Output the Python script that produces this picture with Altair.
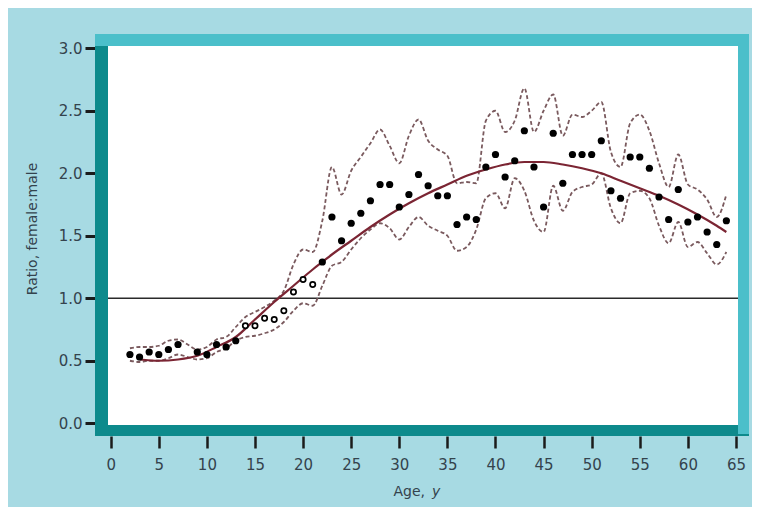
import altair as alt
import pandas as pd

# ---------------- data ----------------
point_age = [2, 3, 4, 5, 6, 7,
             9, 10, 11, 12, 13,
             14, 15, 16, 17, 18, 19, 20, 21,
             22, 23, 24, 25, 26, 27, 28, 29, 30, 31,
             32, 33, 34, 35, 36, 37, 38, 39, 40, 41,
             42, 43, 44, 45, 46, 47, 48, 49, 50, 51,
             52, 53, 54, 55, 56, 57, 58, 59, 60, 61,
             62, 63, 64]
point_ratio = [0.55, 0.53, 0.57, 0.55, 0.59, 0.63,
               0.57, 0.55, 0.63, 0.61, 0.66,
               0.78, 0.78, 0.84, 0.83, 0.90, 1.05, 1.15, 1.11,
               1.29, 1.65, 1.46, 1.60, 1.68, 1.78, 1.91, 1.91, 1.73, 1.83,
               1.99, 1.90, 1.82, 1.82, 1.59, 1.65, 1.63, 2.05, 2.15, 1.97,
               2.10, 2.34, 2.05, 1.73, 2.32, 1.92, 2.15, 2.15, 2.15, 2.26,
               1.86, 1.80, 2.13, 2.13, 2.04, 1.81, 1.63, 1.87, 1.61, 1.65,
               1.53, 1.43, 1.62]
open_ages = [14, 15, 16, 17, 18, 19, 20, 21]

band_age = list(range(2, 65))
band_upper = [0.60, 0.61, 0.61, 0.62, 0.66, 0.67, 0.63, 0.59, 0.61, 0.67,
              0.69, 0.77, 0.85, 0.89, 0.93, 0.98, 1.06, 1.27, 1.39, 1.37,
              1.62, 2.05, 1.83, 2.02, 2.13, 2.24, 2.35, 2.22, 2.08, 2.30,
              2.43, 2.26, 2.19, 2.14, 1.92, 1.93, 1.92, 2.42, 2.50, 2.33,
              2.42, 2.68, 2.33, 2.50, 2.63, 2.30, 2.47, 2.45, 2.50, 2.57,
              2.17, 2.05, 2.40, 2.47, 2.34, 2.08, 1.89, 2.15, 1.91, 1.87,
              1.79, 1.65, 1.83]
band_lower = [0.50, 0.49, 0.50, 0.50, 0.52, 0.55, 0.53, 0.51, 0.52, 0.57,
              0.60, 0.66, 0.69, 0.70, 0.72, 0.75, 0.81, 0.90, 0.96, 0.94,
              1.10, 1.26, 1.29, 1.39, 1.48, 1.55, 1.60, 1.56, 1.47, 1.57,
              1.65, 1.58, 1.54, 1.50, 1.38, 1.41, 1.55, 1.80, 1.84, 1.72,
              1.96, 1.86, 1.62, 1.53, 1.90, 1.70, 1.85, 1.89, 1.91, 2.00,
              1.72, 1.60, 1.84, 1.86, 1.80, 1.58, 1.44, 1.61, 1.41, 1.45,
              1.36, 1.27, 1.37]

curve_age = [3, 5, 7, 9, 11, 13, 15, 17, 19, 21, 22, 23, 25, 27, 29, 31, 33,
             35, 37, 39, 41, 43, 45, 47, 49, 51, 53, 55, 57, 59, 61, 63, 64]
curve_val = [0.51, 0.50, 0.51, 0.54, 0.61, 0.69, 0.83, 0.97, 1.10, 1.23, 1.29,
             1.35, 1.46, 1.57, 1.67, 1.76, 1.84, 1.91, 1.98, 2.03, 2.07, 2.09,
             2.09, 2.07, 2.04, 2.00, 1.94, 1.88, 1.82, 1.75, 1.67, 1.58, 1.53]

ref_line = [1.0]
x_ticks = list(range(0, 66, 5))
y_ticks = [0.0, 0.5, 1.0, 1.5, 2.0, 2.5, 3.0]
x_title = ["Age,", "y"]
y_title = ["Ratio, female:male"]

# ---------------- tables ----------------
pts = pd.DataFrame({"age": point_age, "ratio": point_ratio})
pts["open"] = pts["age"].isin(open_ages)
filled_df = pts[~pts["open"]]
open_df = pts[pts["open"]]
band_df = pd.DataFrame({"age": band_age, "upper": band_upper, "lower": band_lower})
curve_df = pd.DataFrame({"age": curve_age, "val": curve_val})
ref_df = pd.DataFrame({"v": ref_line})
one = pd.DataFrame({"k": [0]})

W, H = 630, 379
BG = "#a7dae3"
DARK = "#0d8a8c"
LIGHT = "#4bbfca"
TXT = "#34434d"
FONT = "DejaVu Sans"

xscale = alt.Scale(domain=[-0.28, 65.21], nice=False, zero=False)
yscale = alt.Scale(domain=[-0.014, 3.018], nice=False, zero=False)
xaxis = alt.Axis(values=x_ticks, offset=11, tickSize=12, tickWidth=2.5,
                 tickColor="#1b1b1b", domain=False, grid=False,
                 labelFont=FONT, labelFontSize=15, labelColor=TXT,
                 labelPadding=9, title=None)
yaxis = alt.Axis(values=y_ticks, format=".1f", offset=13, tickSize=10,
                 tickWidth=3, tickColor="#1b1b1b", domain=False, grid=False,
                 labelFont=FONT, labelFontSize=15, labelColor=TXT,
                 labelPadding=3, title=None)


def X(f):
    return alt.X(f"{f}:Q", scale=xscale, axis=xaxis)


def Y(f):
    return alt.Y(f"{f}:Q", scale=yscale, axis=yaxis)


# ---------------- frame ----------------
frame_left = alt.Chart(one).mark_rule(color=DARK, strokeWidth=13).encode(
    x=alt.value(-6.5), y=alt.value(-12), y2=alt.value(H + 11))
frame_bottom = alt.Chart(one).mark_rule(color=DARK, strokeWidth=11).encode(
    y=alt.value(H + 5.5), x=alt.value(-13), x2=alt.value(W + 11))
frame_top = alt.Chart(one).mark_rule(color=LIGHT, strokeWidth=12).encode(
    y=alt.value(-6), x=alt.value(-13), x2=alt.value(W + 11))
frame_right = alt.Chart(one).mark_rule(color=LIGHT, strokeWidth=11).encode(
    x=alt.value(W + 5.5), y=alt.value(-12), y2=alt.value(H + 9))

# ---------------- titles ----------------
xt1 = alt.Chart(one).mark_text(
    text=x_title[0], font=FONT, fontSize=14, color=TXT, align="right",
    baseline="alphabetic").encode(x=alt.value(317), y=alt.value(H + 71))
xt2 = alt.Chart(one).mark_text(
    text=x_title[1], font=FONT, fontSize=14, fontStyle="italic", color=TXT,
    align="left", baseline="alphabetic").encode(x=alt.value(324), y=alt.value(H + 71))
yt = alt.Chart(one).mark_text(
    text=y_title[0], font=FONT, fontSize=14, color=TXT, angle=270,
    align="center", baseline="middle").encode(x=alt.value(-75), y=alt.value(183))

# ---------------- data layers ----------------
ref = alt.Chart(ref_df).mark_rule(color="#2a2a2a", strokeWidth=1.6).encode(y=Y("v"))

upper = alt.Chart(band_df).mark_line(
    color="#7a5a5e", strokeWidth=1.8, strokeDash=[4, 2.5], interpolate="monotone"
).encode(x=X("age"), y=Y("upper"))
lower = alt.Chart(band_df).mark_line(
    color="#7a5a5e", strokeWidth=1.8, strokeDash=[4, 2.5], interpolate="monotone"
).encode(x=X("age"), y=Y("lower"))

curve = alt.Chart(curve_df).mark_line(
    color="#7b2533", strokeWidth=2.2, interpolate="monotone"
).encode(x=X("age"), y=Y("val"))

filled = alt.Chart(filled_df).mark_circle(color="black", size=52, opacity=1).encode(
    x=X("age"), y=Y("ratio"))
hollow = alt.Chart(open_df).mark_circle(
    fill="white", stroke="black", strokeWidth=1.7, size=28, opacity=1, fillOpacity=1
).encode(x=X("age"), y=Y("ratio"))

chart = alt.layer(
    ref, upper, lower, curve, filled, hollow,
    frame_left, frame_bottom, frame_top, frame_right, xt1, xt2, yt
).properties(
    width=W, height=H,
    autosize=alt.AutoSizeParams(type="none"),
    padding={"left": 100, "top": 38, "right": 14, "bottom": 82},
    background=BG,
).configure_view(fill="white", stroke=None)

chart.save("out.html", embed_options={"renderer": "svg", "actions": False})
